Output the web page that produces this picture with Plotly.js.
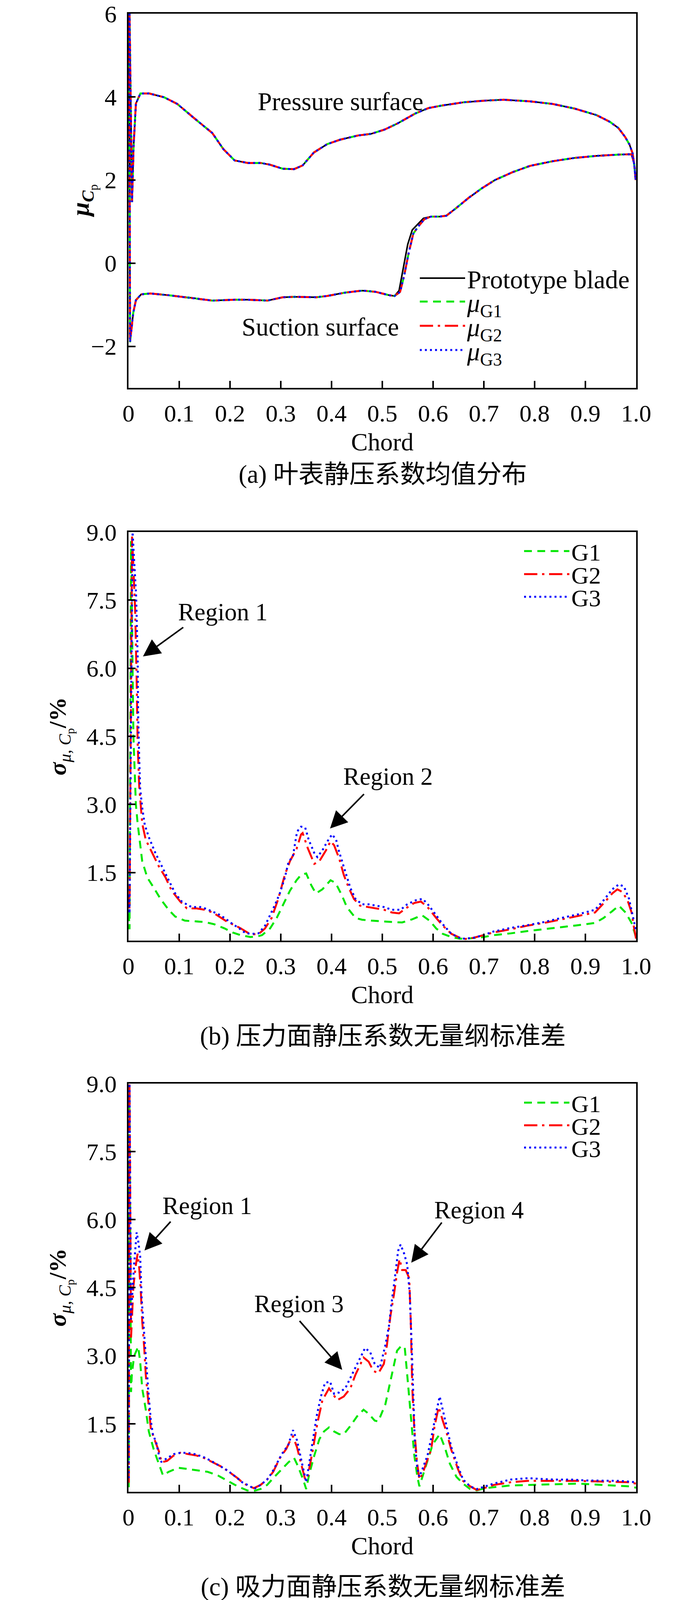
<!DOCTYPE html>
<html>
<head>
<meta charset="utf-8">
<script src="https://cdn.plot.ly/plotly-3.0.1.min.js"></script>
<style>
  html, body { margin: 0; padding: 0; background: #fff; }
  #chart { width: 1772px; height: 4112px; }
</style>
</head>
<body>
<div id="chart"></div>
<script>
// (a) mean static pressure coefficient, [chord, value]
const protoPressure = [[0.002,6.0],[0.007,1.47],[0.010,2.82],[0.0146,3.84],[0.0235,4.08],[0.041,4.08],[0.07,3.99],[0.096,3.83],[0.13,3.48],[0.165,3.13],[0.187,2.74],[0.209,2.47],[0.235,2.41],[0.26,2.41],[0.278,2.37],[0.304,2.27],[0.326,2.26],[0.343,2.35],[0.365,2.66],[0.391,2.86],[0.417,2.97],[0.452,3.07],[0.478,3.11],[0.504,3.21],[0.53,3.36],[0.565,3.6],[0.591,3.73],[0.617,3.79],[0.661,3.87],[0.704,3.91],[0.739,3.93],[0.791,3.89],[0.835,3.83],[0.878,3.72],[0.922,3.56],[0.948,3.4],[0.965,3.25],[0.978,3.04],[0.987,2.85],[0.993,2.64],[0.997,2.3],[0.999,2.0]];
const protoSuction = [[0.0015,6.0],[0.003,-1.9],[0.0094,-1.19],[0.0146,-0.89],[0.025,-0.75],[0.043,-0.73],[0.078,-0.77],[0.122,-0.83],[0.165,-0.9],[0.209,-0.88],[0.235,-0.88],[0.274,-0.9],[0.304,-0.82],[0.326,-0.81],[0.37,-0.82],[0.391,-0.79],[0.426,-0.71],[0.461,-0.66],[0.487,-0.69],[0.513,-0.77],[0.524,-0.79],[0.533,-0.66],[0.541,-0.15],[0.55,0.45],[0.559,0.8],[0.568,0.92],[0.581,1.08],[0.596,1.12],[0.613,1.12],[0.626,1.14],[0.643,1.3],[0.67,1.57],[0.696,1.8],[0.722,2.0],[0.757,2.19],[0.791,2.34],[0.835,2.45],[0.878,2.53],[0.922,2.58],[0.965,2.61],[0.991,2.62],[0.996,2.4],[0.999,2.0]];
const meanPressure = protoPressure;
const meanSuction = [[0.0015,6.0],[0.003,-1.9],[0.0094,-1.19],[0.0146,-0.89],[0.025,-0.75],[0.043,-0.73],[0.078,-0.77],[0.122,-0.83],[0.165,-0.9],[0.209,-0.88],[0.235,-0.88],[0.274,-0.9],[0.304,-0.82],[0.326,-0.81],[0.37,-0.82],[0.391,-0.79],[0.426,-0.71],[0.461,-0.66],[0.487,-0.69],[0.513,-0.77],[0.524,-0.79],[0.535,-0.69],[0.543,-0.3],[0.552,0.25],[0.561,0.71],[0.57,0.87],[0.583,1.06],[0.596,1.12],[0.613,1.12],[0.626,1.14],[0.643,1.3],[0.67,1.57],[0.696,1.8],[0.722,2.0],[0.757,2.19],[0.791,2.34],[0.835,2.45],[0.878,2.53],[0.922,2.58],[0.965,2.61],[0.991,2.62],[0.996,2.4],[0.999,2.0]];

// (b) pressure surface, dimensionless std (%)
const g1Pressure = [[0.0005,0.6],[0.002,0.25],[0.005,8.8],[0.0097,4.5],[0.0145,3.0],[0.018,2.58],[0.027,1.75],[0.037,1.39],[0.05,1.16],[0.063,0.92],[0.079,0.68],[0.092,0.53],[0.111,0.44],[0.13,0.43],[0.15,0.41],[0.169,0.36],[0.189,0.27],[0.205,0.18],[0.221,0.12],[0.24,0.08],[0.253,0.09],[0.263,0.12],[0.279,0.27],[0.292,0.5],[0.305,0.8],[0.318,1.1],[0.331,1.33],[0.34,1.45],[0.35,1.48],[0.36,1.22],[0.369,1.04],[0.382,1.13],[0.398,1.33],[0.408,1.27],[0.421,0.98],[0.43,0.74],[0.447,0.5],[0.46,0.46],[0.479,0.44],[0.5,0.42],[0.519,0.41],[0.539,0.4],[0.559,0.47],[0.578,0.56],[0.593,0.44],[0.606,0.27],[0.619,0.15],[0.636,0.08],[0.653,0.04],[0.673,0.05],[0.7,0.08],[0.719,0.12],[0.753,0.16],[0.786,0.21],[0.819,0.25],[0.853,0.3],[0.886,0.34],[0.919,0.39],[0.936,0.5],[0.953,0.65],[0.966,0.77],[0.979,0.62],[0.991,0.39],[0.996,0.21],[1.0,0.06]];
const g2Pressure = [[0.0005,1.0],[0.002,0.7],[0.007,8.9],[0.013,7.32],[0.016,5.78],[0.018,4.36],[0.021,3.41],[0.024,3.05],[0.027,2.58],[0.034,2.22],[0.044,1.99],[0.06,1.63],[0.073,1.39],[0.085,1.1],[0.102,0.86],[0.115,0.71],[0.134,0.71],[0.15,0.68],[0.166,0.62],[0.179,0.53],[0.195,0.41],[0.211,0.33],[0.221,0.27],[0.24,0.14],[0.256,0.14],[0.269,0.27],[0.282,0.5],[0.295,0.92],[0.308,1.45],[0.318,1.75],[0.331,2.02],[0.34,2.34],[0.343,2.37],[0.353,2.04],[0.366,1.69],[0.376,1.75],[0.389,1.99],[0.398,2.19],[0.405,2.1],[0.415,1.81],[0.424,1.45],[0.434,1.16],[0.444,0.92],[0.456,0.77],[0.473,0.74],[0.489,0.71],[0.503,0.68],[0.519,0.62],[0.533,0.6],[0.546,0.71],[0.563,0.83],[0.576,0.86],[0.589,0.74],[0.606,0.5],[0.619,0.33],[0.636,0.15],[0.659,0.03],[0.679,0.06],[0.699,0.12],[0.719,0.18],[0.753,0.25],[0.786,0.33],[0.819,0.39],[0.853,0.47],[0.886,0.55],[0.919,0.62],[0.939,0.86],[0.953,1.04],[0.963,1.13],[0.973,1.07],[0.983,0.89],[0.991,0.62],[0.996,0.27],[1.0,0.03]];
const g3Pressure = [[0.0005,1.0],[0.002,0.6],[0.008,9.0],[0.015,7.6],[0.018,6.25],[0.019,4.95],[0.021,4.06],[0.023,3.35],[0.027,2.93],[0.032,2.55],[0.04,2.28],[0.053,1.93],[0.066,1.63],[0.079,1.33],[0.092,1.04],[0.105,0.86],[0.124,0.74],[0.144,0.74],[0.163,0.65],[0.176,0.59],[0.189,0.5],[0.202,0.39],[0.218,0.27],[0.231,0.16],[0.244,0.15],[0.256,0.16],[0.269,0.33],[0.279,0.56],[0.289,0.8],[0.298,1.04],[0.308,1.39],[0.315,1.72],[0.324,1.87],[0.332,2.4],[0.34,2.51],[0.348,2.49],[0.355,2.22],[0.366,1.93],[0.372,1.84],[0.382,1.99],[0.392,2.19],[0.401,2.34],[0.409,2.22],[0.414,1.99],[0.424,1.63],[0.437,1.16],[0.447,0.92],[0.46,0.8],[0.473,0.8],[0.489,0.77],[0.503,0.74],[0.519,0.68],[0.536,0.68],[0.549,0.8],[0.566,0.89],[0.579,0.92],[0.589,0.81],[0.606,0.56],[0.619,0.36],[0.636,0.15],[0.656,0.04],[0.679,0.06],[0.699,0.12],[0.719,0.2],[0.753,0.28],[0.786,0.34],[0.819,0.41],[0.853,0.5],[0.886,0.58],[0.919,0.68],[0.936,0.89],[0.953,1.13],[0.966,1.24],[0.976,1.19],[0.986,0.92],[0.993,0.56],[1.0,0.21]];

// (c) suction surface, dimensionless std (%)
const g1Suction = [[0.0005,0.1],[0.002,8.8],[0.005,2.2],[0.0065,2.58],[0.011,2.99],[0.019,3.2],[0.023,2.87],[0.027,2.28],[0.034,1.81],[0.04,1.33],[0.05,0.92],[0.06,0.62],[0.068,0.36],[0.079,0.44],[0.098,0.53],[0.118,0.5],[0.137,0.47],[0.156,0.44],[0.176,0.36],[0.195,0.24],[0.215,0.12],[0.234,0.03],[0.247,0.02],[0.26,0.06],[0.273,0.15],[0.285,0.3],[0.302,0.5],[0.315,0.65],[0.326,0.75],[0.334,0.56],[0.344,0.27],[0.35,0.06],[0.356,0.39],[0.366,0.8],[0.376,1.16],[0.385,1.33],[0.395,1.42],[0.405,1.33],[0.415,1.27],[0.424,1.27],[0.437,1.45],[0.45,1.66],[0.463,1.81],[0.473,1.72],[0.485,1.57],[0.492,1.55],[0.506,1.93],[0.519,2.58],[0.529,3.11],[0.536,3.2],[0.544,3.2],[0.549,2.58],[0.556,1.69],[0.563,0.8],[0.569,0.33],[0.573,0.12],[0.579,0.33],[0.589,0.68],[0.599,1.04],[0.613,1.27],[0.623,0.98],[0.633,0.62],[0.646,0.33],[0.659,0.18],[0.673,0.06],[0.686,0.03],[0.703,0.08],[0.719,0.1],[0.753,0.14],[0.786,0.15],[0.819,0.16],[0.853,0.18],[0.886,0.18],[0.919,0.16],[0.953,0.14],[0.986,0.12],[1.0,0.09]];
const g2Suction = [[0.0005,0.2],[0.002,9.0],[0.005,3.4],[0.0065,3.76],[0.0097,4.53],[0.0145,5.0],[0.018,5.25],[0.021,4.95],[0.024,4.47],[0.027,3.76],[0.031,3.17],[0.034,2.58],[0.039,1.99],[0.044,1.39],[0.05,1.19],[0.06,0.89],[0.065,0.65],[0.076,0.68],[0.089,0.8],[0.102,0.86],[0.118,0.83],[0.134,0.8],[0.15,0.74],[0.166,0.65],[0.182,0.56],[0.198,0.44],[0.215,0.3],[0.227,0.18],[0.24,0.12],[0.247,0.08],[0.26,0.15],[0.273,0.27],[0.285,0.44],[0.298,0.74],[0.311,0.95],[0.321,1.19],[0.324,1.22],[0.332,0.98],[0.34,0.62],[0.348,0.27],[0.353,0.33],[0.363,0.92],[0.372,1.51],[0.382,2.02],[0.395,2.28],[0.402,2.16],[0.411,2.02],[0.424,2.1],[0.437,2.28],[0.447,2.58],[0.463,2.96],[0.473,2.87],[0.482,2.67],[0.492,2.61],[0.503,2.82],[0.509,3.23],[0.516,3.88],[0.523,4.36],[0.529,4.83],[0.534,5.13],[0.539,4.89],[0.546,4.89],[0.553,4.71],[0.556,3.76],[0.559,2.28],[0.563,1.39],[0.568,0.68],[0.573,0.27],[0.579,0.39],[0.586,0.62],[0.596,0.92],[0.603,1.45],[0.611,1.87],[0.619,1.57],[0.626,1.33],[0.636,0.92],[0.649,0.5],[0.659,0.24],[0.673,0.12],[0.686,0.04],[0.703,0.09],[0.719,0.15],[0.753,0.21],[0.786,0.24],[0.819,0.24],[0.853,0.25],[0.886,0.24],[0.919,0.23],[0.953,0.22],[0.986,0.21],[1.0,0.18]];
const g3Suction = [[0.0005,0.3],[0.002,9.0],[0.005,3.8],[0.0065,4.18],[0.011,5.0],[0.016,5.72],[0.019,5.54],[0.023,5.19],[0.026,4.24],[0.031,3.47],[0.034,2.87],[0.039,2.22],[0.044,1.57],[0.048,1.27],[0.055,1.07],[0.063,0.65],[0.076,0.74],[0.089,0.83],[0.102,0.86],[0.115,0.86],[0.131,0.83],[0.147,0.77],[0.163,0.68],[0.182,0.56],[0.195,0.47],[0.211,0.33],[0.224,0.21],[0.24,0.12],[0.247,0.06],[0.26,0.15],[0.273,0.27],[0.282,0.41],[0.292,0.62],[0.302,0.83],[0.315,1.04],[0.324,1.36],[0.332,1.13],[0.34,0.74],[0.348,0.33],[0.35,0.21],[0.355,0.56],[0.363,1.16],[0.371,1.69],[0.379,2.1],[0.387,2.4],[0.397,2.43],[0.405,2.16],[0.415,2.19],[0.427,2.28],[0.44,2.58],[0.453,2.87],[0.466,3.17],[0.476,3.08],[0.485,2.82],[0.495,2.73],[0.506,3.23],[0.513,3.65],[0.519,4.24],[0.526,4.83],[0.531,5.31],[0.536,5.45],[0.543,5.25],[0.549,5.01],[0.554,4.36],[0.558,3.17],[0.561,1.99],[0.564,1.1],[0.569,0.5],[0.573,0.33],[0.579,0.5],[0.589,0.8],[0.599,1.33],[0.606,1.75],[0.613,2.1],[0.619,1.81],[0.626,1.45],[0.636,0.98],[0.649,0.56],[0.659,0.27],[0.673,0.12],[0.686,0.06],[0.703,0.12],[0.719,0.18],[0.753,0.27],[0.786,0.3],[0.836,0.27],[0.869,0.27],[0.903,0.25],[0.936,0.24],[0.969,0.24],[1.0,0.21]];

const chordTicks = [0, 0.1, 0.2, 0.3, 0.4, 0.5, 0.6, 0.7, 0.8, 0.9, 1.0];
const chordLabels = ['0', '0.1', '0.2', '0.3', '0.4', '0.5', '0.6', '0.7', '0.8', '0.9', '1.0'];
const meanTicks = [-2, 0, 2, 4, 6];
const meanLabels = ['\u22122', '0', '2', '4', '6'];
const stdTicks = [1.5, 3.0, 4.5, 6.0, 7.5, 9.0];
const stdLabels = ['1.5', '3.0', '4.5', '6.0', '7.5', '9.0'];

const serif = 'Liberation Serif, Times New Roman, serif';
const cjk = 'Liberation Serif, Noto Sans CJK SC, serif';

const styles = {
    proto: {color: '#000000', width: 4, dash: 'solid'},
    g1: {color: '#00e600', width: 5, dash: '20px,14px'},
    g2: {color: '#ff0000', width: 5, dash: '34px,12px,6px,12px'},
    g3: {color: '#0000ff', width: 5, dash: '5px,8px'},
};

// pressure side from leading to trailing edge, then suction side back
const loop = (press, suct) => press.concat(suct.slice().reverse());

const line = (pts, name, style, xa, ya, legend) => ({
    x: pts.map(p => p[0]),
    y: pts.map(p => p[1]),
    name: name,
    type: 'scatter',
    mode: 'lines',
    line: style,
    xaxis: xa,
    yaxis: ya,
    legend: legend,
});

// one legend per entry so the rows can sit as tightly as in the paper figure
const traces = [
    line(loop(protoPressure, protoSuction), 'Prototype blade', styles.proto, 'x', 'y', 'legend'),
    line(loop(meanPressure, meanSuction), '<i>μ</i><sub>G1</sub>', styles.g1, 'x', 'y', 'legend2'),
    line(loop(meanPressure, meanSuction), '<i>μ</i><sub>G2</sub>', styles.g2, 'x', 'y', 'legend3'),
    line(loop(meanPressure, meanSuction), '<i>μ</i><sub>G3</sub>', styles.g3, 'x', 'y', 'legend4'),
    line(g1Pressure, 'G1', styles.g1, 'x2', 'y2', 'legend5'),
    line(g2Pressure, 'G2', styles.g2, 'x2', 'y2', 'legend6'),
    line(g3Pressure, 'G3', styles.g3, 'x2', 'y2', 'legend7'),
    line(g1Suction, 'G1', styles.g1, 'x3', 'y3', 'legend8'),
    line(g2Suction, 'G2', styles.g2, 'x3', 'y3', 'legend9'),
    line(g3Suction, 'G3', styles.g3, 'x3', 'y3', 'legend10'),
];

const xDomain = [0.1857, 0.9193];
const xAxis = (anchor) => ({
    domain: xDomain,
    anchor: anchor,
    range: [0, 1],
    tickvals: chordTicks,
    ticktext: chordLabels,
    ticks: 'inside',
    ticklen: 18,
    tickwidth: 4,
    tickcolor: '#000',
    ticklabelstandoff: 8,
    tickfont: {family: serif, size: 62, color: '#000'},
    showline: true,
    linewidth: 4,
    linecolor: '#000',
    mirror: true,
    showgrid: false,
    zeroline: false,
    title: {text: 'Chord', font: {family: serif, size: 64, color: '#000'}, standoff: 18},
});
const yAxis = (domain, range, vals, labels, anchor) => ({
    domain: domain,
    anchor: anchor,
    range: range,
    tickvals: vals,
    ticktext: labels,
    ticks: 'inside',
    ticklen: 18,
    tickwidth: 4,
    tickcolor: '#000',
    ticklabelstandoff: 14,
    tickfont: {family: serif, size: 62, color: '#000'},
    showline: true,
    linewidth: 4,
    linecolor: '#000',
    mirror: true,
    showgrid: false,
    zeroline: false,
});

const legendRow = (x, yPx, size) => ({
    x: x, y: 1 - yPx / 4112, xanchor: 'left', yanchor: 'middle',
    bgcolor: 'rgba(0,0,0,0)',
    borderwidth: 0,
    itemwidth: 116,
    font: {family: serif, size: size, color: '#000'},
});

const text = (x, y, t, xref, yref, size, extra) => Object.assign({
    x: x, y: y, xref: xref, yref: yref, text: t, showarrow: false,
    xanchor: 'center', yanchor: 'middle',
    font: {family: serif, size: size, color: '#000'},
}, extra || {});

const arrow = (x, y, ax, ay, xa, ya) => ({
    x: x, y: y, ax: ax, ay: ay, xref: xa, yref: ya, axref: xa, ayref: ya,
    text: '', showarrow: true, arrowhead: 2, arrowsize: 2.2, arrowwidth: 4,
    arrowcolor: '#000', standoff: 0, startstandoff: 0,
});

const yTitleMean = '<b><i>μ</i></b><sub><b><i>C</i></b><sub>p</sub></sub>';
const yTitleStd = '<b><i>σ</i></b><sub><i>μ</i>, <i>C</i><sub>p</sub></sub><b>/%</b>';
const cjkFont = {family: cjk, size: 65, color: '#000'};

const annotations = [
    text(0.418, 3.89, 'Pressure surface', 'x', 'y', 65),
    text(0.378, -1.53, 'Suction surface', 'x', 'y', 65),
    text(0.186, 7.24, 'Region 1', 'x2', 'y2', 63),
    arrow(0.0285, 6.26, 0.109, 6.91, 'x2', 'y2'),
    text(0.511, 3.61, 'Region 2', 'x2', 'y2', 63),
    arrow(0.397, 2.47, 0.465, 3.24, 'x2', 'y2'),
    text(0.155, 6.30, 'Region 1', 'x3', 'y3', 63),
    arrow(0.0315, 5.32, 0.084, 5.97, 'x3', 'y3'),
    text(0.336, 4.14, 'Region 3', 'x3', 'y3', 63),
    arrow(0.421, 2.69, 0.336, 3.78, 'x3', 'y3'),
    text(0.69, 6.21, 'Region 4', 'x3', 'y3', 63),
    arrow(0.557, 5.05, 0.618, 5.95, 'x3', 'y3'),
    text(213 / 1772, 1 - 514 / 4112, yTitleMean, 'paper', 'paper', 64, {textangle: -90}),
    text(155 / 1772, 1 - 1885 / 4112, yTitleStd, 'paper', 'paper', 62, {textangle: -90}),
    text(155 / 1772, 1 - 3296 / 4112, yTitleStd, 'paper', 'paper', 62, {textangle: -90}),
    text(980 / 1772, 1 - 1214 / 4112, '(a) 叶表静压系数均值分布', 'paper', 'paper', 65, {font: cjkFont}),
    text(980 / 1772, 1 - 2652 / 4112, '(b) 压力面静压系数无量纲标准差', 'paper', 'paper', 65, {font: cjkFont}),
    text(980 / 1772, 1 - 4062 / 4112, '(c) 吸力面静压系数无量纲标准差', 'paper', 'paper', 65, {font: cjkFont}),
];

const legA = 1070 / 1772;
const legB = 1337 / 1772;

const layout = {
    width: 1772,
    height: 4112,
    margin: {l: 0, r: 0, t: 0, b: 0},
    paper_bgcolor: '#ffffff',
    plot_bgcolor: '#ffffff',
    showlegend: true,
    xaxis: xAxis('y'),
    yaxis: yAxis([0.75851, 0.99149], [-3, 6], meanTicks, meanLabels, 'x'),
    xaxis2: xAxis('y2'),
    yaxis2: yAxis([0.41440, 0.66877], [0, 9], stdTicks, stdLabels, 'x2'),
    xaxis3: xAxis('y3'),
    yaxis3: yAxis([0.07126, 0.32539], [0, 9], stdTicks, stdLabels, 'x3'),
    legend: legendRow(legA, 712, 66),
    legend2: legendRow(legA, 772, 66),
    legend3: legendRow(legA, 834, 66),
    legend4: legendRow(legA, 896, 66),
    legend5: legendRow(legB, 1411, 62),
    legend6: legendRow(legB, 1470, 62),
    legend7: legendRow(legB, 1528, 62),
    legend8: legendRow(legB, 2823, 62),
    legend9: legendRow(legB, 2881, 62),
    legend10: legendRow(legB, 2938, 62),
    annotations: annotations,
};

Plotly.newPlot('chart', traces, layout, {staticPlot: true, displayModeBar: false});
</script>
</body>
</html>
